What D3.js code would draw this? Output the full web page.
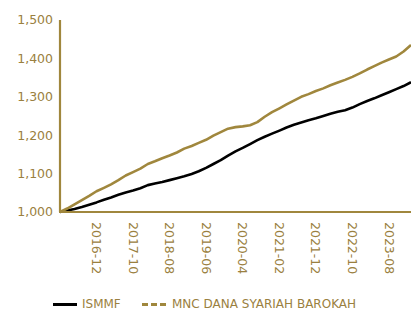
<!DOCTYPE html>
<html>
<head>
<meta charset="utf-8">
<script src="https://cdn.jsdelivr.net/npm/d3@7"></script>
<style>
body { margin: 0; background: #fff; }
svg { display: block; font-family: "DejaVu Sans", Verdana, sans-serif; }
</style>
</head>
<body>
<div id="chart"></div>
<script>
var WIDTH = 411;
var HEIGHT = 310;
var GOLD = "#a0873d";
var TEXT_GOLD = "#9a8040";

// one value every two months, starting 2016-02
var startMonth = "2016-02";
var ismmf = [1000, 1004, 1008, 1013, 1019, 1025, 1032, 1038, 1045, 1051,
	1056, 1062, 1070, 1074, 1078, 1083, 1088, 1093, 1099, 1106,
	1115, 1125, 1135, 1147, 1158, 1167, 1177, 1187, 1196, 1204,
	1212, 1220, 1227, 1233, 1239, 1244, 1250, 1256, 1261, 1265,
	1272, 1281, 1289, 1296, 1304, 1312, 1320, 1328, 1338];
var barokah = [1000, 1009, 1020, 1031, 1042, 1054, 1063, 1072, 1083, 1095,
	1104, 1113, 1125, 1132, 1140, 1147, 1155, 1165, 1172, 1180,
	1188, 1199, 1208, 1217, 1221, 1223, 1226, 1234, 1248, 1260,
	1270, 1280, 1290, 1300, 1307, 1315, 1322, 1330, 1337, 1344,
	1352, 1361, 1371, 1380, 1389, 1397, 1405, 1418, 1435];
var yTicks = [1000, 1100, 1200, 1300, 1400, 1500];
var xTicks = ["2016-12", "2017-10", "2018-08", "2019-06", "2020-04", "2021-02", "2021-12", "2022-10", "2023-08"];
var seriesNames = ["ISMMF", "MNC DANA SYARIAH BAROKAH"];

var parse = d3.timeParse("%Y-%m");
var start = parse(startMonth);
function dateAt(i) {
	return d3.timeMonth.offset(start, i * 2);
}

var x = d3.scaleTime()
	.domain([start, dateAt(ismmf.length - 1)])
	.range([60, 411]);
var y = d3.scaleLinear()
	.domain([1000, 1500])
	.range([212, 20]);

var svg = d3.select("#chart").append("svg")
	.attr("width", WIDTH)
	.attr("height", HEIGHT);

// y labels
svg.selectAll("text.ytick")
	.data(yTicks)
	.enter()
	.append("text")
	.attr("class", "ytick")
	.attr("x", 53)
	.attr("y", d => y(d))
	.attr("dy", "0.35em")
	.attr("text-anchor", "end")
	.attr("fill", TEXT_GOLD)
	.style("font-size", "12.5px")
	.text(d => d3.format(",")(d));

// x labels, rotated
svg.selectAll("text.xtick")
	.data(xTicks)
	.enter()
	.append("text")
	.attr("class", "xtick")
	.attr("transform", d => "translate(" + x(parse(d)) + ",222) rotate(90)")
	.attr("dy", "0.35em")
	.attr("fill", TEXT_GOLD)
	.style("font-size", "12.5px")
	.text(d => d);

var line = d3.line()
	.x((d, i) => x(dateAt(i)))
	.y(d => y(d));

svg.append("path")
	.datum(ismmf)
	.attr("d", line)
	.attr("fill", "none")
	.attr("stroke", "#000")
	.attr("stroke-width", 2.6)
	.attr("stroke-linejoin", "round");

svg.append("path")
	.datum(barokah)
	.attr("d", line)
	.attr("fill", "none")
	.attr("stroke", GOLD)
	.attr("stroke-width", 2.6)
	.attr("stroke-linejoin", "round");

// axis lines
svg.append("line")
	.attr("x1", 60).attr("x2", 60)
	.attr("y1", y(1500)).attr("y2", y(1000))
	.attr("stroke", GOLD)
	.attr("stroke-width", 2.2);
svg.append("line")
	.attr("x1", 59).attr("x2", 411)
	.attr("y1", y(1000)).attr("y2", y(1000))
	.attr("stroke", GOLD)
	.attr("stroke-width", 2.2);

// legend
var legend = svg.append("g");
legend.append("line")
	.attr("x1", 53).attr("x2", 77)
	.attr("y1", 304.5).attr("y2", 304.5)
	.attr("stroke", "#000")
	.attr("stroke-width", 3);
legend.append("text")
	.attr("x", 82).attr("y", 307.5)
	.attr("fill", TEXT_GOLD)
	.style("font-size", "12px")
	.text(seriesNames[0]);
legend.append("line")
	.attr("x1", 142).attr("x2", 167)
	.attr("y1", 304.5).attr("y2", 304.5)
	.attr("stroke", GOLD)
	.attr("stroke-width", 3)
	.attr("stroke-dasharray", "6,3");
legend.append("text")
	.attr("x", 172).attr("y", 307.5)
	.attr("fill", TEXT_GOLD)
	.style("font-size", "12px")
	.text(seriesNames[1]);
</script>
</body>
</html>
